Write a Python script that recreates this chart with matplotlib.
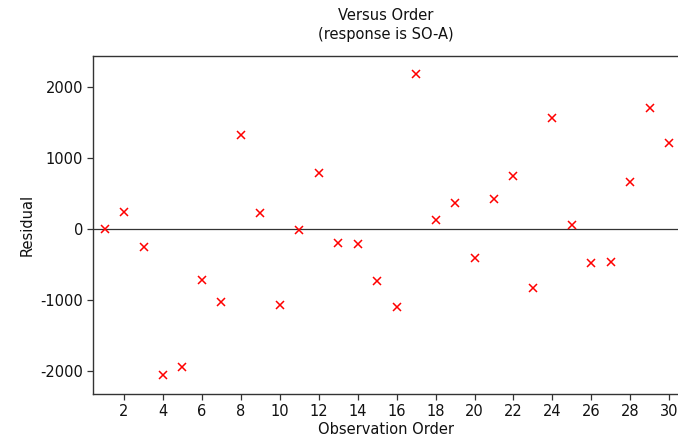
import matplotlib
matplotlib.use("Agg")
import matplotlib.pyplot as plt

# Residuals versus observation order
order = list(range(1, 31))
residual = [0, 243, -249, -2055, -1934, -721, -1021, 1325, 225, -1072,
            -18, 787, -195, -211, -735, -1091, 2173, 122, 365, -403,
            417, 749, -824, 1559, 52, -478, -459, 660, 1699, 1208]

x_ticks = list(range(2, 31, 2))
y_ticks = [-2000, -1000, 0, 1000, 2000]

plt.rcParams.update({"font.family": "DejaVu Sans", "font.size": 10.5,
                     "axes.unicode_minus": False})

fig = plt.figure(figsize=(6.78, 4.44), dpi=100)
ax = fig.add_axes([0.1376, 0.1133, 0.8624, 0.7613])

ax.axhline(0, color="#333333", lw=0.9, zorder=1)
ax.plot(order, residual, "x", color="#ff0000", ms=6, mew=1.1, zorder=2)

ax.set_xlim(0.42, 30.45)
ax.set_ylim(-2313, 2434)
ax.set_xticks(x_ticks)
ax.set_yticks(y_ticks)
ax.tick_params(direction="out", length=4, width=0.9, color="#333333",
               labelcolor="#111111")

for side in ["left", "bottom", "top"]:
    ax.spines[side].set_color("#333333")
    ax.spines[side].set_linewidth(1.0)
ax.spines["right"].set_visible(False)

ax.set_xlabel("Observation Order", labelpad=2, color="#111111")
ax.set_ylabel("Residual", labelpad=4, color="#111111")
ax.set_title("Versus Order\n(response is SO-A)", pad=12, color="#111111",
             fontsize=10.5, linespacing=1.3)

fig.savefig("out.png", dpi=100, facecolor="white")
